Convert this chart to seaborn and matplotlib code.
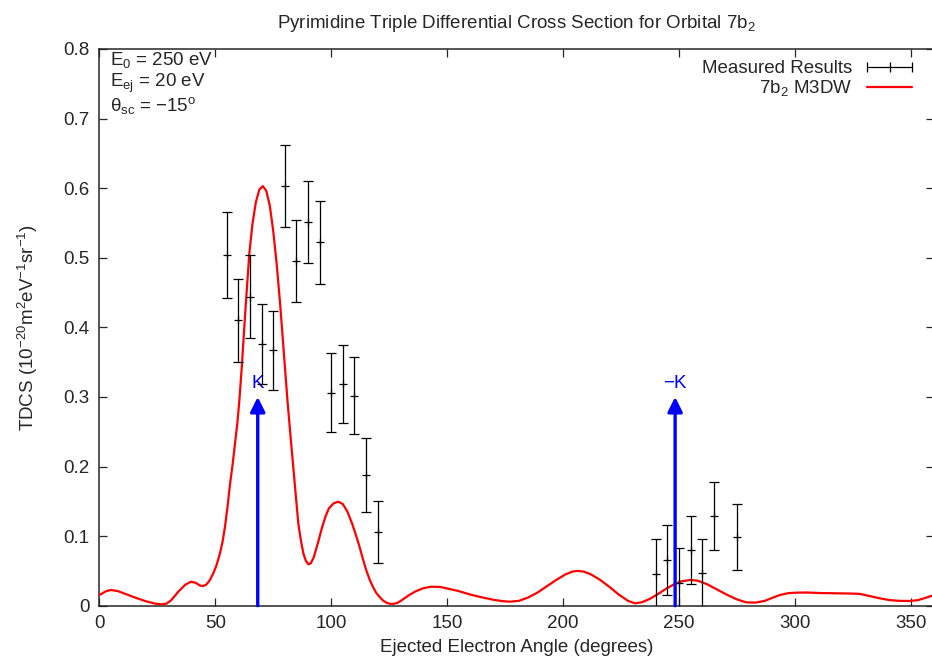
import numpy as np
import pandas as pd
import seaborn as sns
import matplotlib
matplotlib.use('Agg')
import matplotlib.pyplot as plt
from matplotlib.lines import Line2D

# measured TDCS (angle, value, half error)
meas_angle = [55, 60, 65, 70, 75, 80, 85, 90, 95, 100, 105, 110, 115, 120,
              240, 245, 250, 255, 260, 265, 275]
meas_tdcs = [0.504, 0.410, 0.444, 0.376, 0.367, 0.603, 0.495, 0.552, 0.522, 0.306,
             0.319, 0.302, 0.188, 0.106,
             0.046, 0.066, 0.033, 0.080, 0.047, 0.129, 0.099]
meas_err = [0.062, 0.060, 0.060, 0.058, 0.057, 0.059, 0.059, 0.059, 0.059, 0.057,
            0.056, 0.055, 0.053, 0.045,
            0.050, 0.050, 0.050, 0.049, 0.049, 0.049, 0.047]

# M3DW theory curve
theory_angle = [0, 3, 5, 8, 12, 16, 20, 24, 27, 29, 31, 34, 37, 39.5, 41.5, 43.4, 44.5, 46,
                47.5, 49.2, 50.5, 52, 53.2, 54.2, 55.3, 56.4, 57.5, 58.5, 59.5, 60.4, 61.5,
                62.5, 63.6, 64.7, 66, 67.5, 69, 70.5, 72, 73.5, 75, 76.5, 78, 79.5,
                81.1, 82.4, 83.6, 84.7, 85.8, 87, 88, 89, 90.1, 91.2, 92.5, 94.4, 96,
                97.5, 99, 101, 103, 105, 107, 109, 110.5, 112, 113.5, 115, 116.5, 118,
                119.5, 121, 122.5, 124, 125.5, 127, 128.5, 130, 133, 136, 139.5, 143, 147,
                151, 155, 160, 165, 170, 174, 177, 181, 185, 189, 193, 197, 201, 204, 206,
                209, 212, 216, 220, 224, 228, 231, 234, 237.5, 241, 244.7, 248, 251, 254.7,
                258, 262, 266, 270.5, 275, 279, 283, 287, 290, 293.5, 297, 300, 305, 311,
                318, 324, 328, 332, 336.6, 341, 345, 349.6, 353, 356, 360]
theory_tdcs = [0.0154, 0.021, 0.0226, 0.021, 0.016, 0.011, 0.0065, 0.003, 0.002, 0.003,
               0.008, 0.020, 0.030, 0.0345, 0.033, 0.029, 0.0282, 0.030,
               0.036, 0.047, 0.058, 0.075, 0.093, 0.114, 0.143, 0.176, 0.204, 0.233, 0.262,
               0.296, 0.347, 0.40, 0.455, 0.507, 0.548, 0.580, 0.598, 0.603,
               0.596, 0.575, 0.538, 0.490, 0.432, 0.367, 0.296, 0.245, 0.200, 0.157,
               0.118, 0.092, 0.075, 0.065, 0.0595, 0.061, 0.070, 0.092, 0.112,
               0.128, 0.140, 0.147, 0.1495, 0.146, 0.135, 0.118, 0.103, 0.087, 0.069,
               0.052, 0.038, 0.027, 0.018, 0.012, 0.007, 0.004, 0.0027, 0.0028, 0.004,
               0.007, 0.014, 0.020, 0.025, 0.0273, 0.027, 0.024, 0.021, 0.016,
               0.012, 0.0085, 0.0065, 0.0058, 0.007, 0.012, 0.019, 0.028, 0.037, 0.045,
               0.049, 0.050, 0.049, 0.045, 0.037, 0.027, 0.016, 0.007, 0.0034, 0.005,
               0.010, 0.017, 0.025, 0.031, 0.035, 0.037, 0.036, 0.031, 0.024, 0.016,
               0.009, 0.0048, 0.0045, 0.007, 0.011, 0.0154, 0.018, 0.0187, 0.019, 0.0182,
               0.0178, 0.0175, 0.017, 0.014, 0.0106, 0.008, 0.007, 0.0068, 0.008, 0.011,
               0.0154]

k_angle = 68.3
minus_k_angle = 248.3
arrow_top = 0.3

sns.set_style('ticks')
plt.rcParams['font.family'] = ['Liberation Sans', 'DejaVu Sans']
plt.rcParams['mathtext.default'] = 'regular'
plt.rcParams['axes.unicode_minus'] = True

fs = 13.5

fig = plt.figure(figsize=(9.32, 6.63), dpi=100)
ax = fig.add_axes([0.1066, 0.0864, 0.8957, 0.8397])

theory = pd.DataFrame({'angle': theory_angle, 'tdcs': theory_tdcs})
sns.lineplot(data=theory, x='angle', y='tdcs', color='red', lw=1.6, ax=ax,
             sort=False, zorder=3)

ax.errorbar(meas_angle, meas_tdcs, yerr=meas_err, fmt='+', color='black',
            ecolor='black', elinewidth=0.9, capsize=3.6, capthick=0.9,
            ms=6, mew=0.9, zorder=4)

for ang, lab in [(k_angle, 'K'), (minus_k_angle, '\u2212K')]:
    ax.annotate('', xy=(ang, arrow_top), xytext=(ang, 0),
                arrowprops=dict(arrowstyle='-|>', color='blue', lw=2.4,
                                mutation_scale=22, shrinkA=0, shrinkB=0),
                zorder=5)
    ax.text(ang, 0.32, lab, color='blue', ha='center', va='center', fontsize=fs)

ax.set_xlim(0, 360)
ax.set_ylim(0, 0.8)
ax.set_xticks(np.arange(0, 351, 50))
ax.set_yticks(np.arange(0, 0.81, 0.1))
ax.set_yticklabels(['0', '0.1', '0.2', '0.3', '0.4', '0.5', '0.6', '0.7', '0.8'])
ax.tick_params(direction='in', length=6, width=0.9, top=True, right=True,
               labelsize=fs, pad=7)
for s in ax.spines.values():
    s.set_linewidth(1.1)

ax.set_xlabel('Ejected Electron Angle (degrees)', fontsize=fs, labelpad=5)
ax.set_ylabel('TDCS (10$^{-20}$m$^2$eV$^{-1}$sr$^{-1}$)', fontsize=fs, labelpad=17)
ax.set_title('Pyrimidine Triple Differential Cross Section for Orbital 7b$_2$',
             fontsize=fs, pad=15)

ax.text(0.013, 0.980, 'E$_0$ = 250 eV', transform=ax.transAxes, fontsize=fs, va='center')
ax.text(0.013, 0.939, 'E$_{ej}$ = 20 eV', transform=ax.transAxes, fontsize=fs, va='center')
ax.text(0.013, 0.898, '\u03b8$_{sc}$ = \u221215$^o$', transform=ax.transAxes, fontsize=fs,
        va='center')

meas_handle = Line2D([], [], color='black', lw=0.9, marker='|', ms=7, mew=0.9)
theory_handle = Line2D([], [], color='red', lw=1.6)
fig.legend([meas_handle, theory_handle], ['Measured Results', '7b$_2$ M3DW'],
           loc='upper right', bbox_to_anchor=(918 / 932, 1 - 60 / 663),
           frameon=False, markerfirst=False, numpoints=3, fontsize=fs,
           handlelength=3.0, handletextpad=0.5, labelspacing=0.05, borderpad=0,
           borderaxespad=0)

fig.savefig('out.png', dpi=100)
